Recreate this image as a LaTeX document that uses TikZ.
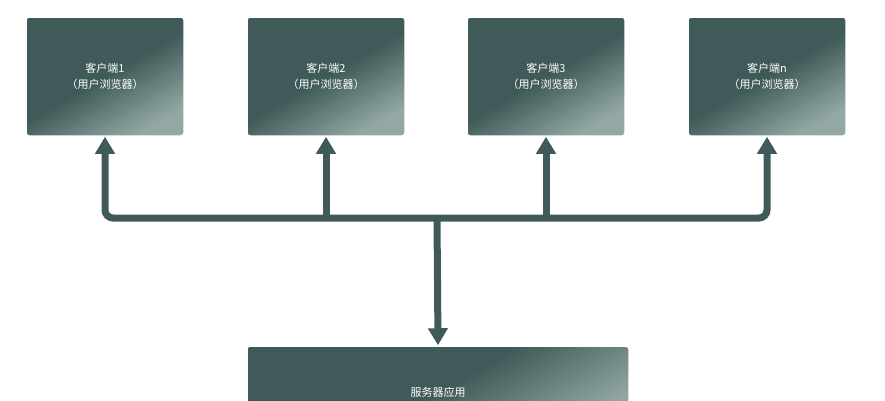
\documentclass[tikz,border=0pt]{standalone}
\usepackage{fontspec}
\newfontfamily\cjk{Noto Sans CJK SC}
\usetikzlibrary{arrows.meta}
\definecolor{teal0}{HTML}{3F5A58}
\definecolor{teal1}{HTML}{93A8A5}
\tikzset{
  box/.style={rounded corners=3pt, minimum width=158pt, minimum height=119pt,
    top color=teal0, bottom color=teal1, middle color=teal0, shading angle=30,
    draw=white, line width=1.5pt, text=white, align=center,
    font=\cjk\fontsize{11}{16}\selectfont},
  bus/.style={draw=teal0, line width=7pt, rounded corners=8pt,
    -{Triangle[length=17pt,width=19pt]}},
}
\begin{document}
\begin{tikzpicture}[x=1pt,y=-1pt]
  \useasboundingbox (0,0) rectangle (885,400);
  \node[box] (c1) at (105,76.5) {客户端1\\（用户浏览器）};
  \node[box] (c2) at (326,76.5) {客户端2\\（用户浏览器）};
  \node[box] (c3) at (546,76.5) {客户端3\\（用户浏览器）};
  \node[box] (cn) at (767,76.5) {客户端n\\（用户浏览器）};
  \node[box, minimum width=382pt, minimum height=92pt] (srv) at (438,392) {服务器应用};
  \coordinate (jn) at (437,218);
  % bus
  \draw[bus,{Triangle[length=17pt,width=19pt]}-{Triangle[length=17pt,width=19pt]}]
    (c1.south) -- (c1.south |- jn) -- (cn.south |- jn) -- (cn.south);
  \draw[bus] (c2.south |- jn) -- (c2.south);
  \draw[bus] (c3.south |- jn) -- (c3.south);
  \draw[bus] (jn) -- (srv.north);
\end{tikzpicture}
\end{document}
